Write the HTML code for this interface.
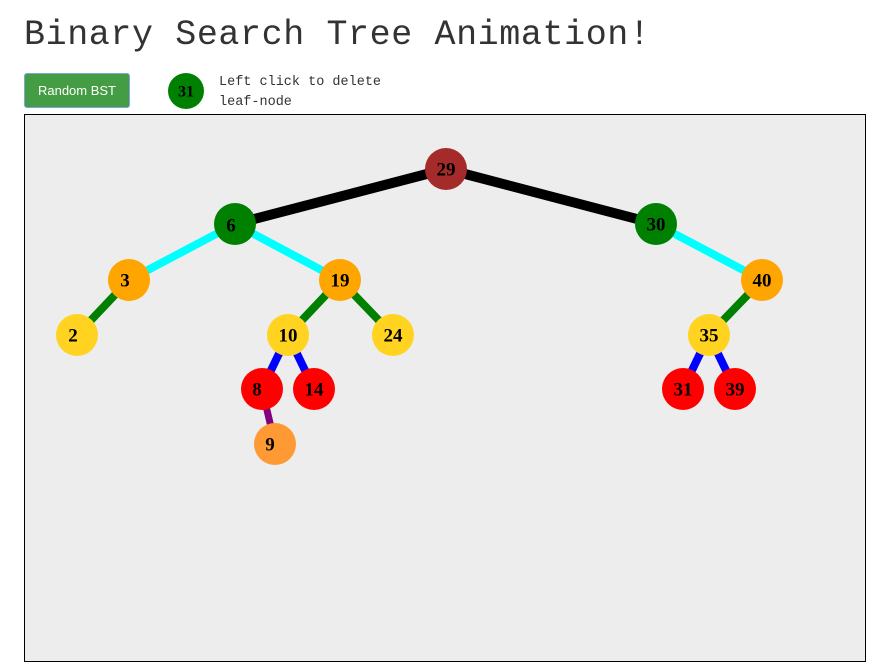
<!DOCTYPE html>
<html><head><style>
body{margin:0;background:#fff;width:884px;height:671px;position:relative;overflow:hidden;font-family:"Liberation Mono",monospace}
h1{position:absolute;left:24px;top:15px;margin:0;font-size:35px;font-weight:normal;color:#333;letter-spacing:0.6px}
.btn{position:absolute;left:24px;top:73px;width:104px;height:33px;background:#449d44;border:1px solid #7aa7e0;border-radius:3px;color:#fff;font:13px "Liberation Sans",sans-serif;display:flex;align-items:center;justify-content:center}
.hint{position:absolute;left:219px;top:73px;font-size:13.5px;line-height:20px;color:#333}
svg text{font-family:"Liberation Serif",serif;font-weight:bold;font-size:19px;text-anchor:middle;dominant-baseline:central}
</style></head><body>
<h1>Binary Search Tree Animation!</h1>
<div class="btn">Random BST</div>
<svg style="position:absolute;left:168px;top:73px" width="38" height="38"><circle cx="18" cy="18" r="18" fill="#008000"/><text x="18" y="19" style="font-family:'Liberation Serif',serif;font-weight:bold;font-size:16px;text-anchor:middle;dominant-baseline:central">31</text></svg>
<div class="hint">Left click to delete<br>leaf-node</div>
<svg style="position:absolute;left:0;top:0" width="884" height="671">
<rect x="24.5" y="114.5" width="841" height="547" fill="#ededed" stroke="#000"/>
<g stroke-linecap="butt">
<line x1="446" y1="169" x2="235" y2="224" stroke="#000" stroke-width="10"/>
<line x1="446" y1="169" x2="656" y2="224" stroke="#000" stroke-width="10"/>
<line x1="235" y1="224" x2="129" y2="280" stroke="#0ff" stroke-width="8"/>
<line x1="235" y1="224" x2="340" y2="280" stroke="#0ff" stroke-width="8"/>
<line x1="656" y1="224" x2="762" y2="280" stroke="#0ff" stroke-width="8"/>
<line x1="129" y1="280" x2="77" y2="335" stroke="#008000" stroke-width="8"/>
<line x1="340" y1="280" x2="288" y2="335" stroke="#008000" stroke-width="8"/>
<line x1="340" y1="280" x2="393" y2="335" stroke="#008000" stroke-width="8"/>
<line x1="762" y1="280" x2="709" y2="335" stroke="#008000" stroke-width="8"/>
<line x1="288" y1="335" x2="262" y2="389" stroke="#00f" stroke-width="8"/>
<line x1="288" y1="335" x2="314" y2="389" stroke="#00f" stroke-width="8"/>
<line x1="709" y1="335" x2="683" y2="389" stroke="#00f" stroke-width="8"/>
<line x1="709" y1="335" x2="735" y2="389" stroke="#00f" stroke-width="8"/>
<line x1="262" y1="389" x2="275" y2="444" stroke="#800080" stroke-width="7"/>
</g>
<g>
<circle cx="446" cy="169" r="21" fill="#a52a2a"/><text x="446" y="170">29</text>
<circle cx="235" cy="224" r="21" fill="#008000"/><text x="231" y="226">6</text>
<circle cx="656" cy="224" r="21" fill="#008000"/><text x="656" y="225">30</text>
<circle cx="129" cy="280" r="21" fill="#ffa500"/><text x="125" y="281">3</text>
<circle cx="340" cy="280" r="21" fill="#ffa500"/><text x="340" y="281">19</text>
<circle cx="762" cy="280" r="21" fill="#ffa500"/><text x="762" y="281">40</text>
<circle cx="77" cy="335" r="21" fill="#ffd320"/><text x="73" y="336">2</text>
<circle cx="288" cy="335" r="21" fill="#ffd320"/><text x="288" y="336">10</text>
<circle cx="393" cy="335" r="21" fill="#ffd320"/><text x="393" y="336">24</text>
<circle cx="709" cy="335" r="21" fill="#ffd320"/><text x="709" y="336">35</text>
<circle cx="262" cy="389" r="21" fill="#f00"/><text x="257" y="390">8</text>
<circle cx="314" cy="389" r="21" fill="#f00"/><text x="314" y="390">14</text>
<circle cx="683" cy="389" r="21" fill="#f00"/><text x="683" y="390">31</text>
<circle cx="735" cy="389" r="21" fill="#f00"/><text x="735" y="390">39</text>
<circle cx="275" cy="444" r="21" fill="#ff9933"/><text x="270" y="445">9</text>
</g>
</svg>
</body></html>
